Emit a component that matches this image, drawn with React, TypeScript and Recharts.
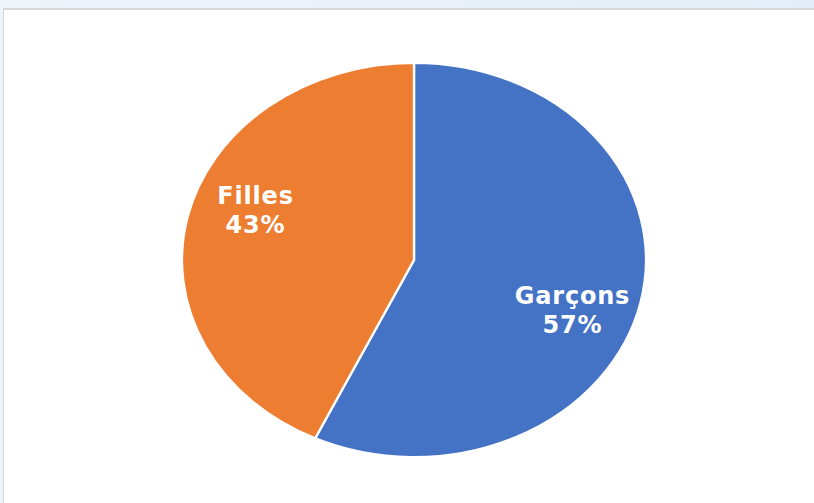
import { PieChart, Pie, Cell } from 'recharts';

const categories = ['Garçons', 'Filles'];
const shares = [57, 43];
const colors = ['#4472C4', '#ED7D31'];

const data = categories.map((name, i) => ({ name, value: shares[i] }));

// Excel draws this pie as an ellipse, so the circle is stretched sideways
const STRETCH = 464 / 394;
const SIZE = 400;

const renderLabel = (props: any) => {
  const { cx, cy, midAngle, outerRadius, name, percent } = props;
  const rad = (-midAngle * Math.PI) / 180;
  const x = cx + Math.cos(rad) * outerRadius * 0.7;
  const y = cy + Math.sin(rad) * outerRadius * 1.16;
  return (
    <text
      transform={`translate(${x},${y}) scale(${1 / STRETCH},1)`}
      textAnchor="middle"
      fill="#ffffff"
      fontFamily="Verdana, 'DejaVu Sans', sans-serif"
      fontWeight="bold"
      fontSize={24}
      letterSpacing={0.8}
    >
      <tspan x={0} y={-6}>{name}</tspan>
      <tspan x={0} y={23}>{`${Math.round(percent * 100)}%`}</tspan>
    </text>
  );
};

export default function App() {
  return (
    <div
      style={{
        position: 'fixed',
        left: 0,
        top: 0,
        width: 814,
        height: 503,
        overflow: 'hidden',
        background: 'linear-gradient(90deg, #eef4fa 0%, #e8f0f7 60%, #e3edf7 100%)',
      }}
    >
      <div
        style={{
          position: 'absolute',
          left: 3,
          top: 8,
          width: 830,
          height: 520,
          background: '#ffffff',
          borderTop: '2px solid #d6d6d6',
          borderLeft: '1px solid #d6d6d6',
        }}
      />
      <div
        style={{
          position: 'absolute',
          left: 414 - SIZE / 2,
          top: 260 - SIZE / 2,
          width: SIZE,
          height: SIZE,
          transform: `scaleX(${STRETCH})`,
          transformOrigin: '50% 50%',
        }}
      >
        <PieChart width={SIZE} height={SIZE} margin={{ top: 0, right: 0, bottom: 0, left: 0 }}>
          <Pie
            data={data}
            dataKey="value"
            nameKey="name"
            cx={SIZE / 2}
            cy={SIZE / 2}
            outerRadius={197}
            startAngle={90}
            endAngle={-270}
            stroke="#ffffff"
            strokeWidth={2}
            label={renderLabel}
            labelLine={false}
            isAnimationActive={false}
          >
            {data.map((d, i) => (
              <Cell key={d.name} fill={colors[i]} />
            ))}
          </Pie>
        </PieChart>
      </div>
    </div>
  );
}
